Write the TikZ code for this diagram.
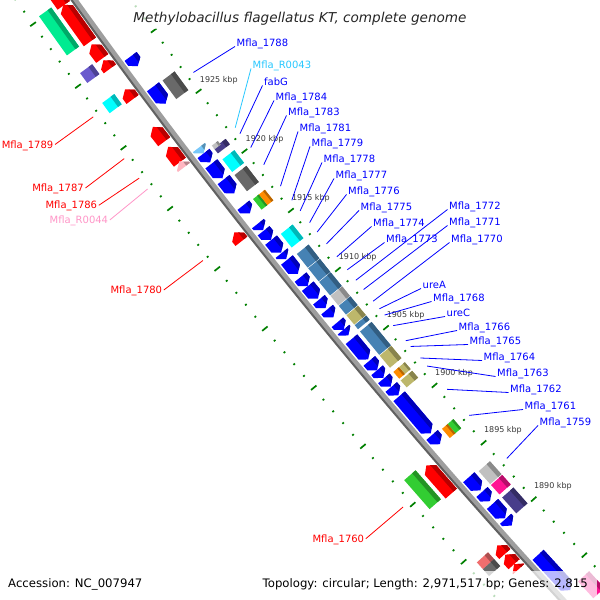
\documentclass[tikz,border=0pt]{standalone}
\usepackage{fontspec}
\setmainfont{DejaVu Sans}
\usepackage{tikz}

\definecolor{fred}{RGB}{255,0,0}
\definecolor{fblue}{RGB}{0,0,255}
\definecolor{fcyan}{RGB}{0,255,255}
\definecolor{fgray}{RGB}{105,105,105}
\definecolor{fsilver}{RGB}{192,192,192}
\definecolor{fsteel}{RGB}{70,130,180}
\definecolor{fkhaki}{RGB}{189,183,107}
\definecolor{forange}{RGB}{255,140,0}
\definecolor{flime}{RGB}{50,205,50}
\definecolor{fmint}{RGB}{0,235,145}
\definecolor{fslate}{RGB}{106,90,205}
\definecolor{fnavy}{RGB}{72,61,139}
\definecolor{fpink}{RGB}{255,20,147}
\definecolor{flpink}{RGB}{255,182,193}
\definecolor{fsky}{RGB}{120,200,250}
\definecolor{fsalmon}{RGB}{240,110,110}
\definecolor{tickgreen}{RGB}{0,128,0}
\definecolor{skytext}{RGB}{40,200,255}
\definecolor{pinktext}{RGB}{255,150,200}

% kbp -> angle on the map circle
\pgfmathdeclarefunction{kang}{1}{\pgfmathparse{216.98+0.1371*(1925-#1)}}

% lane radii
\newcommand{\laneLb}{6383}
\newcommand{\laneLa}{6364}
\newcommand{\laneRa}{6340}
\newcommand{\laneRb}{6321}

% [half width] colour, lane radius, kbp from, kbp to
\newcommand{\genebox}[5][7.5]{%
  \pgfmathsetmacro{\fA}{kang(#4)}%
  \pgfmathsetmacro{\fB}{kang(#5)}%
  \pgfmathsetmacro{\rIn}{#3-#1}%
  \pgfmathsetmacro{\rOut}{#3+#1}%
  \pgfmathsetmacro{\rDk}{#3-0.4*#1}%
  \fill[#2] (\fA:\rIn) -- (\fA:\rOut) -- (\fB:\rOut) -- (\fB:\rIn) -- cycle;
  \fill[#2!72!black] (\fA:\rIn) -- (\fA:\rDk) -- (\fB:\rDk) -- (\fB:\rIn) -- cycle;
}

% colour, lane radius, tail kbp, tip kbp
\newcommand{\genearrow}[4]{%
  \pgfmathsetmacro{\fD}{#3>#4?1:-1}%
  \pgfmathsetmacro{\fA}{kang(#3+0.12*\fD)}%
  \pgfmathsetmacro{\fB}{kang(#4-0.08*\fD)}%
  \pgfmathsetmacro{\fN}{kang(#4-0.08*\fD+\fD*min(0.4,abs(#3-#4)+0.2))}%
  \pgfmathsetmacro{\rIn}{#2-7.5}%
  \pgfmathsetmacro{\rOut}{#2+7.5}%
  \pgfmathsetmacro{\rDk}{#2-3}%
  \fill[#1] (\fA:\rIn) -- (\fA:\rOut) -- (\fN:\rOut) -- (\fB:#2) -- (\fN:\rIn) -- cycle;
  \begin{scope}
    \clip (\fA:\rIn) -- (\fA:\rOut) -- (\fN:\rOut) -- (\fB:#2) -- (\fN:\rIn) -- cycle;
    \fill[#1!72!black] (\fA:\rIn-1) -- (\fA:\rDk) -- (\fB:\rDk) -- (\fB:\rIn-1) -- cycle;
  \end{scope}
}

\begin{document}
\begin{tikzpicture}[x=1pt, y=1pt,
    kbptick/.style={draw=tickgreen, line width=1.7pt},
    ticklbl/.style={font=\fontsize{8}{10}\selectfont, text=black!78, inner sep=0pt},
    lbl/.style={font=\fontsize{10}{12}\selectfont, inner xsep=1.5pt, inner ysep=0pt, text height=7.3pt, text depth=0pt},
    leader/.style={line width=0.8pt},
    veil/.style={fill=white, fill opacity=0.72}]

    \useasboundingbox (0,0) rectangle (600,600);
    \fill[white] (0,0) rectangle (600,600);
    \clip (0,0) rectangle (600,600);

    \begin{scope}[shift={(5236,4302)}]
    % Scale rings
    \foreach \k in {1883,...,1937} {
      \pgfmathsetmacro{\tickang}{kang(\k)}
      \pgfmathtruncatemacro{\tickmod}{mod(\k,5)}
      \ifnum\tickmod=0
        \draw[kbptick] (\tickang:6302.5) -- (\tickang:6309.5);
        \draw[kbptick] (\tickang:6396.5) -- (\tickang:6403.5);
      \else
        \draw[kbptick] (\tickang:6305) -- (\tickang:6307);
        \draw[kbptick] (\tickang:6399) -- (\tickang:6401);
      \fi
    }

    % Backbone
    \pgfmathsetmacro{\bA}{kang(1938)}
    \pgfmathsetmacro{\bB}{kang(1881)}
    \draw[line width=6pt, black!38] (\bA:6352) arc[start angle=\bA, end angle=\bB, radius=6352pt];
    \draw[line width=2pt, black!62] (\bA:6354.5) arc[start angle=\bA, end angle=\bB, radius=6354.5pt];

    % Outer lanes
    \genearrow{fred}{\laneLa}{1934.95}{1936.8}
    \genearrow{fred}{\laneLa}{1932.0}{1934.8}
    \genearrow{fred}{\laneLa}{1930.64}{1931.6}
    \genearrow{fred}{\laneLa}{1929.8}{1930.3}
    \genearrow{fred}{\laneLa}{1927.3}{1927.92}
    \genearrow{fred}{\laneLa}{1923.83}{1924.85}
    \genearrow{fred}{\laneLa}{1922.14}{1923.2}
    \genearrow{flpink}{\laneLa}{1921.7}{1922.0}
    \genearrow{fred}{\laneLa}{1915.55}{1916.1}
    \genearrow{fred}{\laneLa}{1894.0}{1896.27}
    \genearrow{fred}{\laneLa}{1888.7}{1889.25}
    \genearrow{fred}{\laneLa}{1887.8}{1888.45}
    \genearrow{fred}{\laneLa}{1887.35}{1887.6}

    \genebox{fmint}{\laneLb}{1935.19}{1932.05}
    \genebox{fslate}{\laneLb}{1930.6}{1929.8}
    \genebox{fcyan}{\laneLb}{1928.17}{1927.35}
    \genebox{flime}{\laneLb}{1896.57}{1894.05}
    \genebox{fsalmon}{\laneLb}{1889.4}{1888.8}
    \genebox{fgray}{\laneLb}{1888.8}{1888.2}

    % Inner lanes
    \genearrow{fblue}{\laneRa}{1929.4}{1928.8}
    \genearrow{fblue}{\laneRa}{1926.92}{1925.73}
    \genearrow{fsky}{\laneRa}{1921.9}{1921.6}
    \genearrow{fblue}{\laneRa}{1921.4}{1920.87}
    \genearrow{fblue}{\laneRa}{1920.55}{1919.55}
    \genearrow{fblue}{\laneRa}{1919.23}{1918.28}
    \genearrow{fblue}{\laneRa}{1917.1}{1916.6}
    \genearrow{fblue}{\laneRa}{1915.55}{1915.2}
    \genearrow{fblue}{\laneRa}{1914.95}{1914.37}
    \genearrow{fblue}{\laneRa}{1914.16}{1913.3}
    \genearrow{fblue}{\laneRa}{1913.06}{1912.76}
    \genearrow{fblue}{\laneRa}{1912.48}{1911.52}
    \genearrow{fblue}{\laneRa}{1911.04}{1910.49}
    \genearrow{fblue}{\laneRa}{1910.28}{1909.42}
    \genearrow{fblue}{\laneRa}{1909.12}{1908.62}
    \genearrow{fblue}{\laneRa}{1908.28}{1907.82}
    \genearrow{fblue}{\laneRa}{1907.2}{1906.75}
    \genearrow{fblue}{\laneRa}{1906.57}{1906.27}
    \genearrow{fblue}{\laneRa}{1905.75}{1904.22}
    \genearrow{fblue}{\laneRa}{1903.9}{1903.3}
    \genearrow{fblue}{\laneRa}{1903.1}{1902.65}
    \genearrow{fblue}{\laneRa}{1902.4}{1901.9}
    \genearrow{fblue}{\laneRa}{1901.65}{1901.13}
    \genearrow{fblue}{\laneRa}{1900.85}{1897.84}
    \genearrow{fblue}{\laneRa}{1897.5}{1896.9}
    \genearrow{fblue}{\laneRa}{1893.8}{1892.85}
    \genearrow{fblue}{\laneRa}{1892.5}{1891.9}
    \genearrow{fblue}{\laneRa}{1891.45}{1890.4}
    \genearrow{fblue}{\laneRa}{1890.15}{1889.75}
    \genearrow{fblue}{\laneRa}{1886.95}{1884.0}

    \genebox{fgray}{\laneRb}{1927.0}{1925.47}
    \genebox{fnavy}{\laneRb}{1921.4}{1920.95}
    \genebox[3.75]{fsilver}{6324.75}{1921.6}{1921.3}
    \genebox{fcyan}{\laneRb}{1920.46}{1919.4}
    \genebox{fgray}{\laneRb}{1919.15}{1917.8}
    \genebox[3.75]{flime}{6324.75}{1917.15}{1916.25}
    \genebox[3.75]{forange}{6317.25}{1917.15}{1916.25}
    \genebox{fcyan}{\laneRb}{1914.2}{1913.05}
    \genebox{fsteel}{\laneRb}{1912.5}{1911.35}
    \genebox{fsteel}{\laneRb}{1911.3}{1910.2}
    \genebox{fsteel}{\laneRb}{1910.15}{1909.0}
    \genebox{fsilver}{\laneRb}{1908.95}{1908.15}
    \genebox{fsteel}{\laneRb}{1908.1}{1907.35}
    \genebox{fkhaki}{\laneRb}{1907.3}{1906.5}
    \genebox{fsteel}{\laneRb}{1906.45}{1906.1}
    \genebox{fsteel}{\laneRb}{1905.9}{1903.9}
    \genebox{fkhaki}{\laneRb}{1903.85}{1902.8}
    \genebox[3.75]{forange}{6324.75}{1902.45}{1901.85}
    \genebox[3.75]{fkhaki}{6317.25}{1902.45}{1901.85}
    \genebox{fkhaki}{\laneRb}{1901.7}{1901.1}
    \genebox[3.75]{forange}{6324.75}{1897.5}{1896.7}
    \genebox[3.75]{flime}{6317.25}{1897.5}{1896.7}
    \genebox{fsilver}{\laneRb}{1893.8}{1892.66}
    \genebox{fpink}{\laneRb}{1892.58}{1891.74}
    \genebox{fnavy}{\laneRb}{1891.47}{1890.07}
    \genebox{fpink}{\laneRb}{1884.0}{1882.5}

    % Scale labels
    \foreach \k in {1890,1895,...,1925}
      \node[ticklbl] (t\k) at ({kang(\k)+0.028}:6283) {\k\ kbp};

    % Leader ends
    \coordinate (e1789) at ({kang(1927.8)}:6406);
    \coordinate (e1787) at ({kang(1924.4)}:6406);
    \coordinate (e1786) at ({kang(1922.8)}:6406);
    \coordinate (eR0044) at ({kang(1921.9)}:6406);
    \coordinate (e1780) at ({kang(1916.0)}:6406);
    \coordinate (e1760) at ({kang(1895.3)}:6409);
    \coordinate (e1788) at ({kang(1926.2)}:6299);
    \coordinate (eR0043) at ({kang(1921.6)}:6299);
    \coordinate (efabG) at ({kang(1921.1)}:6299);
    \coordinate (e1784) at ({kang(1919.93)}:6299);
    \coordinate (e1783) at ({kang(1918.5)}:6299);
    \coordinate (e1781) at ({kang(1916.7)}:6299);
    \coordinate (e1779) at ({kang(1915.5)}:6299);
    \coordinate (e1778) at ({kang(1914.6)}:6299);
    \coordinate (e1777) at ({kang(1913.6)}:6299);
    \coordinate (e1776) at ({kang(1912.8)}:6299);
    \coordinate (e1775) at ({kang(1911.8)}:6299);
    \coordinate (e1774) at ({kang(1910.7)}:6299);
    \coordinate (e1773) at ({kang(1909.6)}:6299);
    \coordinate (e1772) at ({kang(1908.7)}:6299);
    \coordinate (e1771) at ({kang(1907.9)}:6299);
    \coordinate (e1770) at ({kang(1906.9)}:6299);
    \coordinate (eureA) at ({kang(1906.25)}:6299);
    \coordinate (e1768) at ({kang(1905.7)}:6299);
    \coordinate (eureC) at ({kang(1904.8)}:6299);
    \coordinate (e1766) at ({kang(1903.5)}:6299);
    \coordinate (e1765) at ({kang(1903.0)}:6299);
    \coordinate (e1764) at ({kang(1902.0)}:6299);
    \coordinate (e1763) at ({kang(1901.3)}:6299);
    \coordinate (e1762) at ({kang(1899.27)}:6299);
    \coordinate (e1761) at ({kang(1897.0)}:6299);
    \coordinate (e1759) at ({kang(1893.2)}:6299);
    \end{scope}

    % Labels, outer side
    \node[lbl, text=fred, anchor=east] (l1789) at (55,455.5) {Mfla\_1789};
    \node[lbl, text=fred, anchor=east] (l1787) at (85.5,412) {Mfla\_1787};
    \node[lbl, text=fred, anchor=east] (l1786) at (98.8,394.7) {Mfla\_1786};
    \node[lbl, text=pinktext, anchor=east] (lR0044) at (109.8,380) {Mfla\_R0044};
    \node[lbl, text=fred, anchor=east] (l1780) at (163.8,310) {Mfla\_1780};
    \node[lbl, text=fred, anchor=east] (l1760) at (365.8,61.3) {Mfla\_1760};

    % Labels, inner side
    \node[lbl, text=fblue, anchor=south west] (l1788) at (235,553.5) {Mfla\_1788};
    \node[lbl, text=skytext, anchor=south west] (lR0043) at (251,531.5) {Mfla\_R0043};
    \node[lbl, text=fblue, anchor=south west] (lfabG) at (262.5,514.5) {fabG};
    \node[lbl, text=fblue, anchor=south west] (l1784) at (274,499.5) {Mfla\_1784};
    \node[lbl, text=fblue, anchor=south west] (l1783) at (286.5,484.5) {Mfla\_1783};
    \node[lbl, text=fblue, anchor=south west] (l1781) at (298,468.5) {Mfla\_1781};
    \node[lbl, text=fblue, anchor=south west] (l1779) at (310,453.5) {Mfla\_1779};
    \node[lbl, text=fblue, anchor=south west] (l1778) at (322,437.5) {Mfla\_1778};
    \node[lbl, text=fblue, anchor=south west] (l1777) at (334,421.5) {Mfla\_1777};
    \node[lbl, text=fblue, anchor=south west] (l1776) at (346.5,405.5) {Mfla\_1776};
    \node[lbl, text=fblue, anchor=south west] (l1775) at (359,389.5) {Mfla\_1775};
    \node[lbl, text=fblue, anchor=south west] (l1774) at (371.5,373.5) {Mfla\_1774};
    \node[lbl, text=fblue, anchor=south west] (l1773) at (384.5,357.5) {Mfla\_1773};
    \node[lbl, text=fblue, anchor=south west] (l1772) at (447.5,390.5) {Mfla\_1772};
    \node[lbl, text=fblue, anchor=south west] (l1771) at (447.5,374.5) {Mfla\_1771};
    \node[lbl, text=fblue, anchor=south west] (l1770) at (449.5,357.5) {Mfla\_1770};
    \node[lbl, text=fblue, anchor=south west] (lureA) at (421,311.5) {ureA};
    \node[lbl, text=fblue, anchor=south west] (l1768) at (431.5,298.5) {Mfla\_1768};
    \node[lbl, text=fblue, anchor=south west] (lureC) at (445,283.5) {ureC};
    \node[lbl, text=fblue, anchor=south west] (l1766) at (457,269.5) {Mfla\_1766};
    \node[lbl, text=fblue, anchor=south west] (l1765) at (468,255.5) {Mfla\_1765};
    \node[lbl, text=fblue, anchor=south west] (l1764) at (482,239.5) {Mfla\_1764};
    \node[lbl, text=fblue, anchor=south west] (l1763) at (495.5,223.5) {Mfla\_1763};
    \node[lbl, text=fblue, anchor=south west] (l1762) at (508.5,207.5) {Mfla\_1762};
    \node[lbl, text=fblue, anchor=south west] (l1761) at (523,190.5) {Mfla\_1761};
    \node[lbl, text=fblue, anchor=south west] (l1759) at (538,174.5) {Mfla\_1759};

    % Leaders
    \draw[leader, fred] (l1789.east) -- (e1789);
    \draw[leader, fred] (l1787.east) -- (e1787);
    \draw[leader, fred] (l1786.east) -- (e1786);
    \draw[leader, pinktext] (lR0044.east) -- (eR0044);
    \draw[leader, fred] (l1780.east) -- (e1780);
    \draw[leader, fred] (l1760.east) -- (e1760);
    \draw[leader, fblue] (l1788.south west) -- (e1788);
    \draw[leader, skytext] (lR0043.south west) -- (eR0043);
    \draw[leader, fblue] (lfabG.south west) -- (efabG);
    \draw[leader, fblue] (l1784.south west) -- (e1784);
    \draw[leader, fblue] (l1783.south west) -- (e1783);
    \draw[leader, fblue] (l1781.south west) -- (e1781);
    \draw[leader, fblue] (l1779.south west) -- (e1779);
    \draw[leader, fblue] (l1778.south west) -- (e1778);
    \draw[leader, fblue] (l1777.south west) -- (e1777);
    \draw[leader, fblue] (l1776.south west) -- (e1776);
    \draw[leader, fblue] (l1775.south west) -- (e1775);
    \draw[leader, fblue] (l1774.south west) -- (e1774);
    \draw[leader, fblue] (l1773.south west) -- (e1773);
    \draw[leader, fblue] (l1772.south west) -- (e1772);
    \draw[leader, fblue] (l1771.south west) -- (e1771);
    \draw[leader, fblue] (l1770.south west) -- (e1770);
    \draw[leader, fblue] (lureA.south west) -- (eureA);
    \draw[leader, fblue] (l1768.south west) -- (e1768);
    \draw[leader, fblue] (lureC.south west) -- (eureC);
    \draw[leader, fblue] (l1766.south west) -- (e1766);
    \draw[leader, fblue] (l1765.south west) -- (e1765);
    \draw[leader, fblue] (l1764.south west) -- (e1764);
    \draw[leader, fblue] (l1763.south west) -- (e1763);
    \draw[leader, fblue] (l1762.south west) -- (e1762);
    \draw[leader, fblue] (l1761.south west) -- (e1761);
    \draw[leader, fblue] (l1759.south west) -- (e1759);

    % Title and footer
    \fill[veil] (128,571) rectangle (472,600);
    \fill[veil] (4,0) rectangle (174,29);
    \fill[veil] (256,0) rectangle (597,29);
    \node[font=\fontsize{13.6}{16}\selectfont\itshape, text=black!85, inner sep=0pt, anchor=base] (title) at (300,577.3) {Methylobacillus flagellatus KT, complete genome};
    \node[font=\fontsize{11.7}{14}\selectfont, inner sep=0pt, anchor=base west] (accession) at (8,12.7) {Accession: NC\_007947};
    \node[font=\fontsize{11.7}{14}\selectfont, inner sep=0pt, anchor=base west] (topology) at (262.5,12.7) {Topology: circular; Length: 2,971,517 bp; Genes: 2,815};

\end{tikzpicture}
\end{document}
